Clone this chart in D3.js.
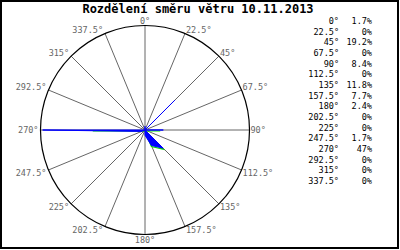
<!DOCTYPE html>
<html>
<head>
<meta charset="utf-8">
<script src="https://cdn.jsdelivr.net/npm/d3@7"></script>
<style>
body { margin: 0; background: #fff; }
text { font-family: "DejaVu Sans Mono", monospace; }
</style>
</head>
<body>
<div id="chart"></div>
<script>
// chart data
var title = "Rozdělení směru větru 10.11.2013";
var directions = [0, 22.5, 45, 67.5, 90, 112.5, 135, 157.5, 180, 202.5, 225, 247.5, 270, 292.5, 315, 337.5];
var dirLabels = ["0°", "22.5°", "45°", "67.5°", "90°", "112.5°", "135°", "157.5°", "180°", "202.5°", "225°", "247.5°", "270°", "292.5°", "315°", "337.5°"];
var shares = [1.7, 0, 19.2, 0, 8.4, 0, 11.8, 7.7, 2.4, 0, 0, 1.7, 47, 0, 0, 0];
var shareLabels = ["1.7%", "0%", "19.2%", "0%", "8.4%", "0%", "11.8%", "7.7%", "2.4%", "0%", "0%", "1.7%", "47%", "0%", "0%", "0%"];
// second (green) series
var second = [0, 0, 0, 0, 7, 0, 11.8, 7.7, 0, 0, 0, 0, 24, 0, 0, 0];

var width = 400, height = 250;
var cx = 145, cy = 130, R = 104.5;

var svg = d3.select("#chart").append("svg")
    .attr("width", width)
    .attr("height", height);

svg.append("rect")
    .attr("x", 1).attr("y", 1)
    .attr("width", 397).attr("height", 247)
    .attr("fill", "white")
    .attr("stroke", "black")
    .attr("stroke-width", 2);

svg.append("text")
    .attr("x", 198)
    .attr("y", 13)
    .attr("text-anchor", "middle")
    .style("font-size", "12px")
    .style("font-weight", "bold")
    .text(title);

var g = svg.append("g").attr("transform", "translate(" + cx + "," + cy + ")");

var r = d3.scaleLinear().domain([0, 48]).range([0, R]);
function ang(d) { return d * Math.PI / 180; }

// spokes
g.selectAll("line.spoke")
    .data(directions)
    .enter().append("line")
    .attr("class", "spoke")
    .attr("x1", 0).attr("y1", 0)
    .attr("x2", function(d) { return R * Math.sin(ang(d)); })
    .attr("y2", function(d) { return -R * Math.cos(ang(d)); })
    .attr("stroke", "#666")
    .attr("stroke-width", 1);

g.append("circle")
    .attr("r", R)
    .attr("fill", "none")
    .attr("stroke", "black")
    .attr("stroke-width", 1.2);

// labels round the circle
g.selectAll("text.dir")
    .data(directions)
    .enter().append("text")
    .attr("class", "dir")
    .attr("x", function(d) {
        var x = R * Math.sin(ang(d));
        if (d == 0 || d == 180) return x;
        return d < 180 ? x + 1 : x - 2;
    })
    .attr("y", function(d) {
        var y = -R * Math.cos(ang(d));
        if (d == 0) return y - 2;
        if (d == 180) return y + 2;
        return y;
    })
    .attr("text-anchor", function(d) {
        if (d == 0 || d == 180) return "middle";
        return d < 180 ? "start" : "end";
    })
    .attr("dominant-baseline", function(d) {
        if (d == 90 || d == 270) return "middle";
        if (d < 90 || d > 270) return "auto";
        return "hanging";
    })
    .attr("fill", "#666")
    .style("font-size", "8.5px")
    .text(function(d, i) { return dirLabels[i]; });

var radial = d3.lineRadial()
    .angle(function(d, i) { return ang(directions[i]); })
    .radius(function(d) { return r(d); })
    .curve(d3.curveLinearClosed);

g.append("path")
    .attr("d", radial(second))
    .attr("transform", "translate(0,1)")
    .attr("fill", "none")
    .attr("stroke", "#00e000")
    .attr("stroke-width", 1.2);

g.append("path")
    .attr("d", radial(shares))
    .attr("fill", "#0000ff")
    .attr("stroke", "#0000ff")
    .attr("stroke-width", 1);

// table on the right
var rowY = d3.scaleLinear().domain([0, 15]).range([21.5, 181.5]);
var rows = svg.selectAll("g.row")
    .data(directions)
    .enter().append("g")
    .attr("class", "row")
    .attr("transform", function(d, i) { return "translate(0," + rowY(i) + ")"; });

rows.append("text")
    .attr("x", 339)
    .attr("dominant-baseline", "middle")
    .attr("text-anchor", "end")
    .style("font-size", "8.5px")
    .text(function(d, i) { return dirLabels[i]; });

rows.append("text")
    .attr("x", 372)
    .attr("dominant-baseline", "middle")
    .attr("text-anchor", "end")
    .style("font-size", "8.5px")
    .text(function(d, i) { return shareLabels[i]; });
</script>
</body>
</html>
